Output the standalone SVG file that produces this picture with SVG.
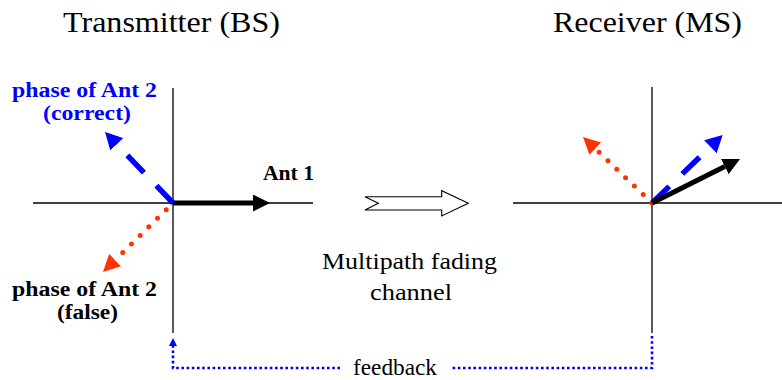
<svg xmlns="http://www.w3.org/2000/svg" width="782" height="380" viewBox="0 0 782 380">
  <style>
    text { font-family: 'Liberation Serif', 'Times New Roman', serif; }
    .title { font-size: 29px; fill: #000; }
    .label { font-size: 20px; font-weight: bold; }
    .plain { font-size: 24px; fill: #000; }
    .axis { stroke: #000; stroke-width: 1.3; fill: none; }
    .vecBlack { stroke: #000; stroke-width: 5; fill: none; }
    .vecBlue { stroke: #0000ff; stroke-width: 5.5; stroke-dasharray: 24 18; fill: none; }
    .vecRed { stroke: #ff3300; stroke-width: 5; stroke-dasharray: 0 12.2; stroke-linecap: round; fill: none; }
    .fb { stroke: #0000ff; stroke-width: 2.6; stroke-dasharray: 2.6 2.6; fill: none; }
  </style>
  <defs>
    <marker id="headBlack" markerUnits="userSpaceOnUse" viewBox="0 0 17 17" refX="0" refY="8.5" markerWidth="17" markerHeight="17" orient="auto">
      <path d="M0,0 L17,8.5 L0,17 Z" fill="#000"/>
    </marker>
    <marker id="headBlue" markerUnits="userSpaceOnUse" viewBox="0 0 17 18" refX="0" refY="9" markerWidth="17" markerHeight="18" orient="auto">
      <path d="M0,0 L17,9 L0,18 Z" fill="#0000ff"/>
    </marker>
    <marker id="headRed" markerUnits="userSpaceOnUse" viewBox="0 0 17 17" refX="0" refY="8.5" markerWidth="17" markerHeight="17" orient="auto">
      <path d="M0,0 L17,8.5 L0,17 Z" fill="#ff3300"/>
    </marker>
    <marker id="headFb" markerUnits="userSpaceOnUse" viewBox="0 0 8 8" refX="0" refY="4" markerWidth="8" markerHeight="8" orient="auto">
      <path d="M0,0 L8,4 L0,8 Z" fill="#0000ff"/>
    </marker>
  </defs>

  <!-- Transmitter side -->
  <g id="transmitter">
    <text class="title" x="63" y="32" textLength="217" lengthAdjust="spacingAndGlyphs">Transmitter (BS)</text>
    <line class="axis" x1="173" y1="88" x2="173" y2="333"/>
    <line class="axis" x1="33" y1="203" x2="313" y2="203"/>
    <line class="vecBlack" x1="173" y1="203" x2="253" y2="203" marker-end="url(#headBlack)"/>
    <line class="vecBlue" x1="173" y1="203" x2="116.8" y2="144.3" marker-end="url(#headBlue)"/>
    <line class="vecRed" x1="166.2" y1="209.7" x2="115.1" y2="260.1" marker-end="url(#headRed)"/>
    <text class="label" x="263" y="180" textLength="51" lengthAdjust="spacingAndGlyphs" fill="#000">Ant 1</text>
    <text class="label" x="12" y="97" textLength="145" lengthAdjust="spacingAndGlyphs" fill="#0000ff">phase of Ant 2</text>
    <text class="label" x="43" y="120" textLength="88" lengthAdjust="spacingAndGlyphs" fill="#0000ff">(correct)</text>
    <text class="label" x="12" y="296" textLength="145" lengthAdjust="spacingAndGlyphs" fill="#000">phase of Ant 2</text>
    <text class="label" x="57" y="319" textLength="61" lengthAdjust="spacingAndGlyphs" fill="#000">(false)</text>
  </g>

  <!-- Channel -->
  <g id="channel">
    <path d="M365,196.7 L441.7,196.7 L441.7,190.7 L468.3,203.3 L441.7,216 L441.7,210 L365,210 L378.3,203.3 Z" fill="#fff" stroke="#000" stroke-width="1.1" stroke-linejoin="miter"/>
    <text class="plain" x="322" y="269" textLength="175" lengthAdjust="spacingAndGlyphs">Multipath fading</text>
    <text class="plain" x="370" y="300" textLength="82" lengthAdjust="spacingAndGlyphs">channel</text>
  </g>

  <!-- Receiver side -->
  <g id="receiver">
    <text class="title" x="553" y="32" textLength="189" lengthAdjust="spacingAndGlyphs">Receiver (MS)</text>
    <line class="axis" x1="652" y1="87" x2="652" y2="333"/>
    <line class="axis" x1="513" y1="203" x2="782" y2="203"/>
    <line class="vecRed" x1="652" y1="203" x2="595.3" y2="148.7" marker-end="url(#headRed)"/>
    <line class="vecBlue" x1="652" y1="203" x2="710.4" y2="146.8" marker-end="url(#headBlue)"/>
    <line class="vecBlack" x1="652" y1="203" x2="724.8" y2="166.6" marker-end="url(#headBlack)"/>
  </g>

  <!-- Feedback link -->
  <g id="connectors">
    <path class="fb" d="M652,336 V368 H452"/>
    <path class="fb" d="M340,368 H173 V346" marker-end="url(#headFb)"/>
    <text class="plain" x="353" y="375" font-size="22" textLength="84" lengthAdjust="spacingAndGlyphs">feedback</text>
  </g>
</svg>
